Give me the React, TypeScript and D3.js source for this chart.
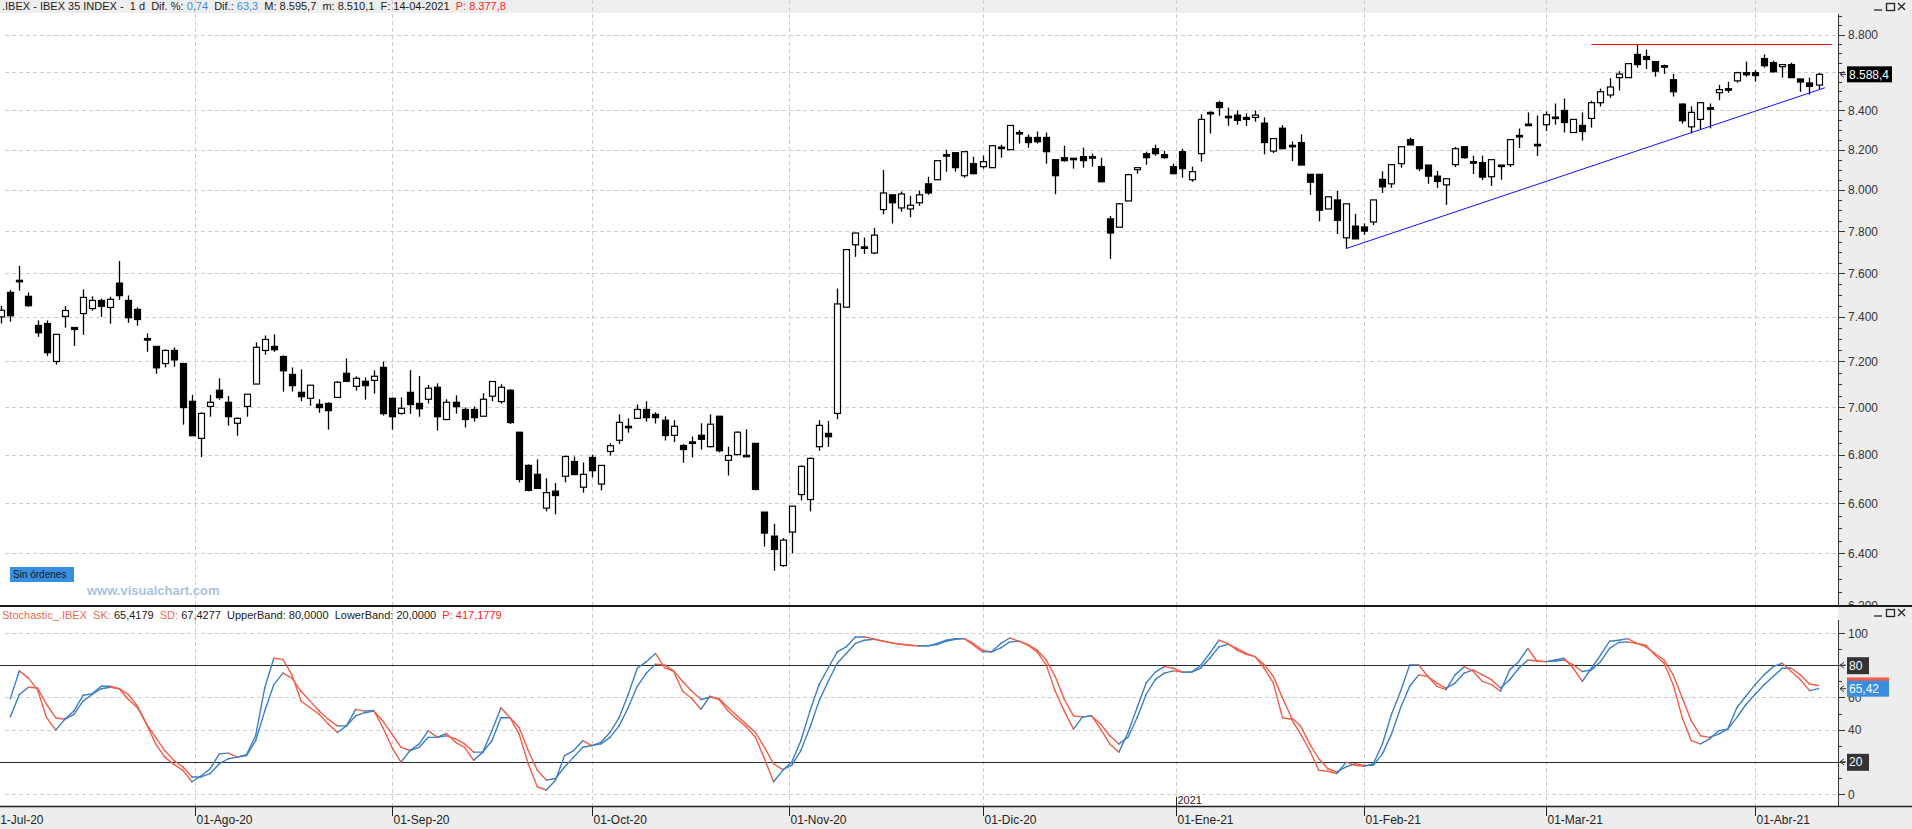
import React, { useEffect, useRef } from 'react';
import * as d3 from 'd3';

const W = 1912;
const H = 829;
const AXIS_X = 1838;
const MAIN_BOTTOM = 605;
const STOCH_TOP = 607;
const STOCH_BOTTOM = 806;

const FIRST_DAY = '2020-07-01';
const LAST_DAY = '2021-04-14';
const HOLIDAYS = ['2020-12-25', '2021-01-01', '2021-04-02', '2021-04-05'];
const MONTH_NAMES = ['Ene', 'Feb', 'Mar', 'Abr', 'May', 'Jun', 'Jul', 'Ago', 'Sep', 'Oct', 'Nov', 'Dic'];
const MONTH_TICKS = ['2020-07-01', '2020-08-01', '2020-09-01', '2020-10-01', '2020-11-01', '2020-12-01', '2021-01-01', '2021-02-01', '2021-03-01', '2021-04-01'];

const OPEN = [7440, 7400, 7512, 7564, 7494, 7361, 7370, 7200, 7402, 7343, 7415, 7438, 7475, 7443, 7555, 7475, 7434, 7302, 7267, 7191, 7249, 7191, 7026, 6868, 7004, 7074, 7022, 6932, 7004, 7101, 7249, 7267, 7222, 7143, 7065, 7039, 7013, 7017, 7043, 7148, 7091, 7113, 7117, 7174, 7039, 6974, 7065, 7017, 7035, 7087, 6948, 7022, 6991, 6991, 6962, 7048, 7025, 7074, 6894, 6755, 6718, 6580, 6649, 6710, 6771, 6665, 6788, 6678, 6813, 6860, 6919, 6953, 6991, 6970, 6945, 6881, 6838, 6853, 6881, 6833, 6962, 6776, 6800, 6797, 6847, 6564, 6468, 6352, 6484, 6635, 6615, 6833, 6889, 6974, 7444, 7735, 7725, 7696, 7904, 7976, 7912, 7907, 7937, 8030, 8050, 8175, 8185, 8070, 8130, 8115, 8110, 8208, 8200, 8287, 8262, 8262, 8262, 8150, 8160, 8155, 8165, 8165, 8115, 7859, 7819, 7946, 8100, 8180, 8205, 8175, 8115, 8190, 8050, 8180, 8390, 8440, 8368, 8376, 8354, 8364, 8335, 8193, 8309, 8222, 8236, 8077, 8077, 7907, 7951, 7768, 7824, 7820, 7844, 8052, 8030, 8130, 8251, 8215, 8123, 8068, 8025, 8125, 8215, 8140, 8135, 8065, 8123, 8125, 8268, 8330, 8223, 8327, 8362, 8400, 8287, 8323, 8359, 8440, 8480, 8571, 8571, 8694, 8683, 8656, 8634, 8560, 8433, 8316, 8354, 8410, 8492, 8513, 8554, 8597, 8597, 8672, 8650, 8629, 8640, 8564, 8543, 8532];
const HIGH = [7470, 7450, 7523, 7635, 7512, 7384, 7384, 7321, 7449, 7352, 7526, 7494, 7483, 7492, 7658, 7498, 7443, 7325, 7267, 7254, 7263, 7191, 7054, 6979, 7054, 7126, 7049, 6957, 7057, 7285, 7316, 7321, 7227, 7174, 7165, 7096, 7035, 7022, 7114, 7213, 7135, 7130, 7161, 7200, 7043, 7043, 7162, 7136, 7097, 7104, 7035, 7052, 7000, 7004, 7061, 7112, 7100, 7078, 6894, 6759, 6780, 6702, 6682, 6796, 6792, 6767, 6800, 6755, 6847, 6970, 6953, 7013, 7026, 6979, 6962, 6945, 6844, 6876, 6932, 6970, 6962, 6833, 6898, 6906, 6847, 6564, 6517, 6460, 6588, 6755, 6788, 6945, 6942, 7530, 7715, 7792, 7769, 7816, 8098, 7976, 7992, 7971, 7997, 8065, 8145, 8200, 8185, 8190, 8165, 8170, 8220, 8225, 8323, 8299, 8277, 8292, 8287, 8150, 8220, 8155, 8210, 8180, 8160, 7873, 7936, 8080, 8110, 8190, 8225, 8195, 8130, 8205, 8115, 8380, 8395, 8450, 8415, 8400, 8385, 8400, 8364, 8256, 8325, 8241, 8277, 8077, 8077, 7966, 7995, 7932, 7883, 7837, 7951, 8092, 8125, 8215, 8261, 8215, 8123, 8093, 8055, 8214, 8215, 8170, 8170, 8150, 8123, 8251, 8307, 8390, 8374, 8395, 8436, 8462, 8354, 8390, 8450, 8514, 8568, 8605, 8645, 8746, 8720, 8656, 8640, 8591, 8436, 8421, 8440, 8436, 8533, 8549, 8602, 8656, 8612, 8694, 8661, 8640, 8650, 8564, 8571, 8595.7];
const LOW = [7380, 7370, 7378, 7520, 7446, 7310, 7225, 7186, 7351, 7269, 7319, 7428, 7400, 7369, 7478, 7373, 7360, 7243, 7146, 7174, 7177, 6926, 6879, 6790, 6960, 7033, 6922, 6879, 6960, 7101, 7230, 7243, 7068, 7068, 7027, 7007, 6977, 6905, 7043, 7109, 7072, 7033, 7059, 6965, 6905, 6969, 6972, 6960, 7017, 6901, 6945, 6973, 6914, 6939, 6962, 7026, 7016, 6929, 6685, 6648, 6660, 6567, 6555, 6685, 6717, 6643, 6705, 6652, 6796, 6844, 6892, 6953, 6939, 6931, 6859, 6852, 6766, 6788, 6821, 6830, 6809, 6713, 6796, 6792, 6652, 6427, 6332, 6348, 6400, 6611, 6567, 6816, 6832, 6949, 7441, 7678, 7691, 7690, 7881, 7837, 7893, 7867, 7922, 7976, 8050, 8090, 8090, 8060, 8080, 8105, 8110, 8160, 8200, 8231, 8210, 8231, 8130, 7979, 8140, 8105, 8110, 8115, 8040, 7668, 7819, 7946, 8080, 8125, 8170, 8155, 8080, 8060, 8040, 8140, 8282, 8373, 8321, 8327, 8321, 8342, 8177, 8183, 8205, 8143, 8123, 7976, 7847, 7907, 7786, 7717, 7763, 7782, 7829, 7985, 8010, 8110, 8224, 8093, 8030, 8010, 7927, 8113, 8155, 8078, 8048, 8020, 8050, 8113, 8208, 8322, 8168, 8294, 8327, 8287, 8287, 8246, 8312, 8421, 8465, 8504, 8571, 8624, 8617, 8576, 8591, 8472, 8332, 8282, 8302, 8308, 8453, 8492, 8545, 8576, 8550, 8624, 8597, 8571, 8571, 8497, 8482, 8510.1];
const CLOSE = [7400, 7430, 7405, 7568, 7451, 7328, 7239, 7321, 7429, 7352, 7489, 7475, 7448, 7480, 7497, 7396, 7388, 7298, 7172, 7249, 7207, 6999, 6879, 6974, 7022, 7042, 6960, 6953, 7057, 7263, 7298, 7252, 7159, 7094, 7046, 7096, 6999, 6986, 7109, 7113, 7126, 7094, 7135, 6973, 6960, 6996, 7012, 6994, 7083, 6960, 7022, 7003, 6948, 6956, 7035, 7112, 7087, 6935, 6697, 6652, 6660, 6643, 6631, 6792, 6717, 6718, 6733, 6755, 6837, 6936, 6915, 6991, 6956, 6956, 6880, 6919, 6821, 6851, 6864, 6928, 6816, 6796, 6894, 6796, 6656, 6480, 6415, 6452, 6588, 6751, 6784, 6923, 6875, 7459, 7712, 7791, 7720, 7781, 7985, 7937, 7980, 7925, 7976, 7985, 8145, 8170, 8110, 8190, 8080, 8140, 8220, 8213, 8323, 8282, 8236, 8240, 8190, 8070, 8145, 8157, 8145, 8160, 8040, 7791, 7932, 8075, 8110, 8160, 8180, 8160, 8080, 8105, 8090, 8354, 8385, 8415, 8370, 8349, 8364, 8376, 8236, 8256, 8205, 8217, 8123, 8038, 7901, 7966, 7852, 7932, 7763, 7800, 7951, 8015, 8125, 8215, 8224, 8105, 8068, 8042, 8055, 8205, 8160, 8135, 8063, 8150, 8118, 8251, 8272, 8322, 8227, 8378, 8366, 8338, 8354, 8292, 8440, 8497, 8522, 8590, 8645, 8640, 8667, 8605, 8629, 8497, 8347, 8390, 8440, 8414, 8508, 8508, 8597, 8586, 8582, 8634, 8602, 8640, 8571, 8548, 8525, 8588.4];

const SK = [null, null, 59.1, 76.5, 72.0, 64.8, 47.4, 39.7, 46.4, 51.5, 61.3, 62.2, 66.9, 66.9, 65.4, 58.7, 53.6, 43.4, 31.1, 22.9, 18.4, 14.7, 7.6, 11.2, 15.7, 24.9, 25.4, 22.9, 24.5, 36.2, 65.8, 84.3, 83.6, 74.0, 57.7, 53.6, 49.5, 43.4, 38.2, 42.3, 52.6, 51.5, 51.9, 41.3, 29.0, 19.8, 27.0, 31.1, 39.3, 35.2, 37.6, 32.1, 29.0, 20.9, 26.0, 39.3, 53.6, 47.4, 37.2, 18.8, 4.5, 2.5, 8.6, 23.9, 27.0, 33.1, 30.1, 32.1, 38.2, 47.4, 61.8, 78.1, 82.2, 87.3, 78.5, 76.1, 63.8, 59.3, 52.6, 60.7, 58.7, 51.5, 46.4, 41.7, 35.2, 21.9, 7.6, 14.7, 19.8, 33.1, 51.5, 67.9, 78.1, 88.3, 91.4, 97.5, 97.5, 96.5, 94.9, 93.9, 93.0, 92.4, 92.0, 92.0, 93.5, 95.5, 96.5, 96.5, 92.4, 88.3, 88.3, 93.5, 96.9, 94.9, 92.4, 88.3, 80.2, 63.8, 51.5, 40.3, 47.9, 48.5, 40.3, 31.1, 26.0, 38.2, 53.6, 68.9, 75.7, 79.1, 78.1, 75.7, 75.7, 79.8, 87.3, 95.5, 93.5, 89.4, 86.7, 85.3, 78.1, 68.9, 47.4, 46.4, 37.2, 27.0, 14.7, 14.1, 12.7, 19.8, 17.8, 17.2, 18.8, 31.1, 49.5, 63.8, 80.2, 80.2, 73.0, 66.9, 64.8, 74.0, 79.1, 76.1, 69.9, 67.9, 63.8, 77.1, 82.2, 90.4, 82.6, 82.2, 83.2, 84.3, 78.1, 69.9, 78.1, 86.3, 94.9, 95.5, 96.5, 93.5, 92.4, 86.3, 81.2, 67.9, 47.4, 33.1, 31.1, 34.2, 39.3, 40.3, 53.6, 60.7, 67.9, 74.0, 79.1, 81.2, 76.1, 71.0, 64.2, 65.42];
const SD = [null, null, 47.9, 61.8, 66.3, 65.8, 55.6, 47.4, 46.4, 49.5, 57.7, 61.8, 65.4, 66.3, 65.4, 61.8, 54.6, 43.4, 35.2, 27.0, 20.9, 16.8, 10.6, 10.6, 12.7, 18.8, 21.9, 22.9, 23.9, 33.1, 51.5, 67.9, 75.1, 72.0, 63.8, 57.7, 51.5, 46.4, 42.3, 42.3, 48.5, 50.5, 51.5, 45.4, 37.2, 29.0, 27.0, 29.0, 35.2, 35.2, 36.2, 34.2, 31.1, 26.0, 26.0, 33.1, 47.4, 47.4, 41.3, 27.0, 14.7, 8.6, 9.6, 16.8, 22.9, 29.0, 30.1, 31.1, 35.2, 42.3, 53.6, 66.9, 75.1, 80.6, 80.2, 76.5, 69.9, 63.8, 58.7, 60.1, 59.3, 53.6, 48.5, 43.4, 38.2, 29.0, 18.8, 15.1, 17.8, 27.0, 41.3, 57.7, 69.9, 81.2, 87.3, 93.5, 95.5, 96.1, 95.1, 93.9, 93.0, 92.4, 92.0, 92.0, 92.8, 94.9, 96.1, 96.5, 93.5, 89.4, 88.3, 90.8, 94.5, 94.9, 92.8, 89.4, 83.2, 73.0, 58.7, 48.5, 47.9, 48.5, 43.4, 36.2, 31.1, 35.2, 47.4, 61.8, 71.0, 75.1, 76.5, 75.7, 75.7, 78.1, 84.3, 91.4, 93.0, 90.4, 87.3, 85.3, 80.2, 73.0, 59.7, 47.4, 42.3, 31.1, 21.9, 15.7, 13.7, 16.8, 18.8, 17.8, 17.8, 24.9, 37.2, 53.6, 66.9, 74.0, 73.0, 68.9, 65.8, 68.9, 75.1, 77.1, 74.0, 71.0, 65.8, 71.0, 78.1, 83.2, 82.6, 82.2, 82.6, 83.2, 80.2, 76.1, 77.1, 82.2, 90.4, 94.1, 94.5, 93.5, 91.4, 87.3, 83.2, 74.0, 59.7, 45.4, 36.2, 35.2, 37.2, 40.3, 47.4, 55.6, 61.8, 67.9, 73.0, 78.1, 78.1, 74.0, 68.3, 67.43];

const PRICE_LABELS = [6200, 6400, 6600, 6800, 7000, 7200, 7400, 7600, 7800, 8000, 8200, 8400, 8600, 8800];
const STOCH_LABELS = [0, 20, 40, 60, 80, 100];
const BANDS = [80, 20];
const SUPPORT = [{ idx: 149, value: 7717 }, { idx: 201.7, value: 8518 }];
const RESISTANCE = { idx: 176, value: 8748 };
const LAST_PRICE = 8588.4;

const HEADER = [
  ['.IBEX - IBEX 35 INDEX -  1 d  Dif. %: ', '#1a1a1a'],
  ['0,74', '#3a8ee0'],
  ['  Dif.: ', '#1a1a1a'],
  ['63,3', '#3a8ee0'],
  ['  M: 8.595,7  m: 8.510,1  F: 14-04-2021  ', '#1a1a1a'],
  ['P: 8.377,8', '#ff1a1a'],
];
const STOCH_HEADER = [
  ['Stochastic_.IBEX  SK: ', '#ec6a55'],
  ['65,4179  ', '#1a1a1a'],
  ['SD: ', '#ec6a55'],
  ['67,4277  UpperBand: 80,0000  LowerBand: 20,0000  ', '#1a1a1a'],
  ['P: 417,1779', '#ff1a1a'],
];

const FONT = '"Liberation Sans", Arial, sans-serif';
const BLUE = '#3d7fc2';
const RED = '#ef5e4a';

const fmtPrice = (v: number) => d3.format(',')(v).replace(/,/g, '.');

function tradingDays(): Date[] {
  const out: Date[] = [];
  const d = new Date(FIRST_DAY + 'T00:00:00Z');
  const end = new Date(LAST_DAY + 'T00:00:00Z');
  while (d <= end) {
    const wd = d.getUTCDay();
    const iso = d.toISOString().slice(0, 10);
    if (wd !== 0 && wd !== 6 && !HOLIDAYS.includes(iso)) out.push(new Date(d));
    d.setUTCDate(d.getUTCDate() + 1);
  }
  return out;
}

// position of a calendar date in bar units (interpolated between trading days)
function datePos(days: Date[], iso: string): number {
  const t = new Date(iso + 'T00:00:00Z').getTime();
  const n = days.findIndex(d => d.getTime() >= t);
  if (n <= 0) return 0;
  if (days[n].getTime() === t) return n;
  const p = n - 1;
  return p + (t - days[p].getTime()) / (days[n].getTime() - days[p].getTime());
}

function addParts(sel: any, parts: string[][]) {
  parts.forEach(([txt, col]) => sel.append('tspan').attr('fill', col).text(txt));
}

const StockChart: React.FC = () => {
  const svgRef = useRef<SVGSVGElement>(null);

  useEffect(() => {
    if (!svgRef.current) return;
    const svg = d3.select(svgRef.current);
    svg.selectAll('*').remove();

    const days = tradingDays();
    const n = OPEN.length;

    const x = d3.scaleLinear().domain([0, n - 1]).range([-7.9, -7.9 + (n - 1) * 9.087]);
    const y = d3.scaleLog().domain([6400, 8800]).range([553.3, 34.7]);
    const ys = d3.scaleLinear().domain([0, 100]).range([794, 633]);

    const defs = svg.append('defs');
    defs.append('clipPath').attr('id', 'clipMain')
      .append('rect').attr('x', 0).attr('y', 0).attr('width', AXIS_X).attr('height', MAIN_BOTTOM);
    defs.append('clipPath').attr('id', 'clipStoch')
      .append('rect').attr('x', 0).attr('y', STOCH_TOP).attr('width', AXIS_X).attr('height', STOCH_BOTTOM - STOCH_TOP);
    defs.append('clipPath').attr('id', 'clipMainAxis')
      .append('rect').attr('x', AXIS_X).attr('y', 0).attr('width', W - AXIS_X).attr('height', MAIN_BOTTOM);

    // backgrounds
    svg.append('rect').attr('width', W).attr('height', H).attr('fill', '#ffffff');
    svg.append('rect').attr('x', 0).attr('y', 0).attr('width', AXIS_X).attr('height', 13).attr('fill', '#eeeeee');
    svg.append('rect').attr('x', AXIS_X).attr('y', 0).attr('width', W - AXIS_X).attr('height', H).attr('fill', '#ededed');
    svg.append('rect').attr('x', 0).attr('y', STOCH_BOTTOM).attr('width', W).attr('height', H - STOCH_BOTTOM).attr('fill', '#ededed');

    const monthPos = MONTH_TICKS.map(m => ({ iso: m, pos: datePos(days, m) }));

    // ---- main pane
    const main = svg.append('g').attr('clip-path', 'url(#clipMain)');

    main.selectAll('.hgrid').data(PRICE_LABELS).enter().append('line')
      .attr('x1', 5).attr('x2', AXIS_X)
      .attr('y1', d => Math.round(y(d)) + 0.5).attr('y2', d => Math.round(y(d)) + 0.5)
      .attr('stroke', '#cfcfcf').attr('stroke-dasharray', '4,3');

    main.selectAll('.vgrid').data(monthPos).enter().append('line')
      .attr('x1', d => Math.round(x(d.pos)) + 0.5).attr('x2', d => Math.round(x(d.pos)) + 0.5)
      .attr('y1', 0).attr('y2', MAIN_BOTTOM)
      .attr('stroke', '#d2c9d2').attr('stroke-dasharray', '4,3');

    const header = main.append('text').attr('x', 2).attr('y', 10)
      .attr('font-family', FONT).attr('font-size', 11).style('white-space', 'pre');
    addParts(header, HEADER);

    // candles
    const candles = main.append('g');
    d3.range(n).forEach(i => {
      const cx = Math.round(x(i)) + 0.5;
      const o = OPEN[i], c = CLOSE[i];
      candles.append('line')
        .attr('x1', cx).attr('x2', cx)
        .attr('y1', y(HIGH[i])).attr('y2', y(LOW[i]))
        .attr('stroke', '#000').attr('stroke-width', 1.3);
      const top = y(Math.max(o, c));
      const bot = y(Math.min(o, c));
      const h = Math.max(bot - top, 1.5);
      candles.append('rect')
        .attr('x', cx - 3).attr('y', top).attr('width', 6).attr('height', h)
        .attr('fill', c >= o && bot - top > 2 ? '#ffffff' : '#000000')
        .attr('stroke', '#000').attr('stroke-width', 1.2);
    });

    // trend lines
    main.append('line')
      .attr('x1', x(SUPPORT[0].idx)).attr('y1', y(SUPPORT[0].value))
      .attr('x2', x(SUPPORT[1].idx)).attr('y2', y(SUPPORT[1].value))
      .attr('stroke', '#1010ff').attr('stroke-width', 1);
    main.append('line')
      .attr('x1', x(RESISTANCE.idx)).attr('x2', AXIS_X - 6)
      .attr('y1', Math.round(y(RESISTANCE.value)) + 0.5).attr('y2', Math.round(y(RESISTANCE.value)) + 0.5)
      .attr('stroke', '#ff0000').attr('stroke-width', 1);

    // watermark + button
    main.append('rect').attr('x', 10).attr('y', 567).attr('width', 64).attr('height', 15).attr('fill', '#3a8ee0');
    main.append('text').attr('x', 13).attr('y', 578).attr('font-family', FONT).attr('font-size', 10)
      .attr('fill', '#0c1a2a').text('Sin órdenes');
    main.append('text').attr('x', 87).attr('y', 595).attr('font-family', FONT).attr('font-size', 13)
      .attr('font-weight', 'bold').attr('fill', '#a9c3e2').text('www.visualchart.com');

    // ---- main axis
    const yl = y(LAST_PRICE);
    const mAxis = svg.append('g').attr('clip-path', 'url(#clipMainAxis)');
    mAxis.append('line').attr('x1', AXIS_X + 0.5).attr('x2', AXIS_X + 0.5).attr('y1', 14).attr('y2', MAIN_BOTTOM)
      .attr('stroke', '#333');
    d3.range(6200, 8901, 50).forEach(v => {
      const major = v % 200 === 0;
      mAxis.append('line')
        .attr('x1', AXIS_X).attr('x2', AXIS_X + (major ? 7 : 4))
        .attr('y1', Math.round(y(v)) + 0.5).attr('y2', Math.round(y(v)) + 0.5)
        .attr('stroke', '#333');
    });
    // labels hidden behind the last-price box are not drawn
    mAxis.selectAll('.plab').data(PRICE_LABELS.filter(v => Math.abs(y(v) - yl) > 10)).enter().append('text')
      .attr('x', AXIS_X + 10).attr('y', d => y(d) + 4.5)
      .attr('font-family', FONT).attr('font-size', 12).attr('fill', '#333')
      .text(d => fmtPrice(d));

    mAxis.append('path').attr('d', `M${AXIS_X + 2},${yl} l4,-3 M${AXIS_X + 2},${yl} l4,3 M${AXIS_X + 2},${yl} h6`)
      .attr('stroke', '#333').attr('fill', 'none');
    mAxis.append('rect').attr('x', AXIS_X + 9).attr('y', yl - 8).attr('width', 45).attr('height', 16).attr('fill', '#000');
    mAxis.append('text').attr('x', AXIS_X + 11).attr('y', yl + 4.5).attr('font-family', FONT).attr('font-size', 12)
      .attr('fill', '#fff').text('8.588,4');

    // window buttons
    const winBtns = (top: number) => {
      const g = svg.append('g').attr('stroke', '#222').attr('fill', 'none').attr('stroke-width', 1.3);
      g.append('line').attr('x1', 1874).attr('x2', 1882).attr('y1', top + 8).attr('y2', top + 8);
      g.append('rect').attr('x', 1886.5).attr('y', top + 1.5).attr('width', 8).attr('height', 7);
      g.append('path').attr('d', `M1898,${top + 1} l7,7 M1905,${top + 1} l-7,7`);
    };
    winBtns(2);
    winBtns(608);

    // divider
    svg.append('line').attr('x1', 0).attr('x2', W).attr('y1', 606).attr('y2', 606)
      .attr('stroke', '#1a1a1a').attr('stroke-width', 2);

    // ---- stochastic pane
    const st = svg.append('g').attr('clip-path', 'url(#clipStoch)');
    st.selectAll('.sgrid').data([100, 60, 40, 0]).enter().append('line')
      .attr('x1', 5).attr('x2', AXIS_X)
      .attr('y1', d => Math.round(ys(d)) + 0.5).attr('y2', d => Math.round(ys(d)) + 0.5)
      .attr('stroke', '#cfcfcf').attr('stroke-dasharray', '4,3');
    st.selectAll('.svgrid').data(monthPos).enter().append('line')
      .attr('x1', d => Math.round(x(d.pos)) + 0.5).attr('x2', d => Math.round(x(d.pos)) + 0.5)
      .attr('y1', STOCH_TOP).attr('y2', STOCH_BOTTOM)
      .attr('stroke', '#d2c9d2').attr('stroke-dasharray', '4,3');
    st.selectAll('.band').data(BANDS).enter().append('line')
      .attr('x1', 0).attr('x2', AXIS_X)
      .attr('y1', d => Math.round(ys(d)) + 0.5).attr('y2', d => Math.round(ys(d)) + 0.5)
      .attr('stroke', '#2b2b2b').attr('stroke-width', 1);

    const sHeader = st.append('text').attr('x', 2).attr('y', 619)
      .attr('font-family', FONT).attr('font-size', 11).style('white-space', 'pre');
    addParts(sHeader, STOCH_HEADER);

    [SD, SK].forEach(series => {
      for (let i = 1; i < series.length; i++) {
        const a = series[i - 1], b = series[i];
        if (a == null || b == null) continue;
        st.append('line')
          .attr('x1', x(i - 1)).attr('y1', ys(a))
          .attr('x2', x(i)).attr('y2', ys(b))
          .attr('stroke', b >= a ? BLUE : RED).attr('stroke-width', 1.4)
          .attr('stroke-linecap', 'round');
      }
    });

    // stochastic axis
    svg.append('line').attr('x1', AXIS_X + 0.5).attr('x2', AXIS_X + 0.5).attr('y1', 620).attr('y2', STOCH_BOTTOM)
      .attr('stroke', '#333');
    d3.range(0, 101, 10).forEach(v => {
      const major = v % 20 === 0;
      svg.append('line')
        .attr('x1', AXIS_X).attr('x2', AXIS_X + (major ? 7 : 4))
        .attr('y1', Math.round(ys(v)) + 0.5).attr('y2', Math.round(ys(v)) + 0.5)
        .attr('stroke', '#333');
    });
    svg.selectAll('.slab').data(STOCH_LABELS.filter(v => !BANDS.includes(v))).enter().append('text')
      .attr('x', AXIS_X + 10).attr('y', d => ys(d) + 4.5)
      .attr('font-family', FONT).attr('font-size', 12).attr('fill', '#333')
      .text(d => String(d));

    const arrow = (yy: number) => svg.append('path')
      .attr('d', `M${AXIS_X + 2},${yy} l4,-3 M${AXIS_X + 2},${yy} l4,3 M${AXIS_X + 2},${yy} h6`)
      .attr('stroke', '#333').attr('fill', 'none');

    BANDS.forEach(b => {
      arrow(ys(b));
      svg.append('rect').attr('x', AXIS_X + 9).attr('y', ys(b) - 8).attr('width', 22).attr('height', 17).attr('fill', '#333');
      svg.append('text').attr('x', AXIS_X + 11).attr('y', ys(b) + 4.5).attr('font-family', FONT).attr('font-size', 12)
        .attr('fill', '#fff').text(String(b));
    });

    const lastK = SK[n - 1] as number;
    const lastD = SD[n - 1] as number;
    svg.append('rect').attr('x', AXIS_X + 9).attr('y', ys(lastD) - 8).attr('width', 42).attr('height', 16).attr('fill', RED);
    arrow(ys(lastK));
    svg.append('rect').attr('x', AXIS_X + 9).attr('y', ys(lastK) - 8).attr('width', 42).attr('height', 16).attr('fill', '#3a8ee0');
    svg.append('text').attr('x', AXIS_X + 11).attr('y', ys(lastK) + 4.5).attr('font-family', FONT).attr('font-size', 12)
      .attr('fill', '#fff').text(d3.format('.2f')(lastK).replace('.', ','));

    // ---- time axis
    svg.append('line').attr('x1', 0).attr('x2', W).attr('y1', STOCH_BOTTOM + 0.5).attr('y2', STOCH_BOTTOM + 0.5)
      .attr('stroke', '#222').attr('stroke-width', 1.5);
    monthPos.forEach(({ iso, pos }) => {
      const xx = Math.round(x(pos)) + 0.5;
      const d = new Date(iso + 'T00:00:00Z');
      const lab = `01-${MONTH_NAMES[d.getUTCMonth()]}-${String(d.getUTCFullYear()).slice(2)}`;
      svg.append('line').attr('x1', xx).attr('x2', xx).attr('y1', STOCH_BOTTOM).attr('y2', STOCH_BOTTOM + 10)
        .attr('stroke', '#222');
      svg.append('text').attr('x', xx + 1).attr('y', 824).attr('font-family', FONT).attr('font-size', 12)
        .attr('fill', '#222').text(lab);
      if (d.getUTCMonth() === 0) {
        svg.append('line').attr('x1', xx).attr('x2', xx).attr('y1', STOCH_BOTTOM - 9).attr('y2', STOCH_BOTTOM)
          .attr('stroke', '#222');
        svg.append('text').attr('x', xx + 1).attr('y', STOCH_BOTTOM - 2).attr('font-family', FONT).attr('font-size', 11)
          .attr('fill', '#222').text(String(d.getUTCFullYear()));
      }
    });
  }, []);

  return <svg ref={svgRef} width={W} height={H} style={{ display: 'block' }} />;
};

export default function App() {
  return (
    <div style={{ position: 'fixed', left: 0, top: 0, width: W, height: H, overflow: 'hidden', background: '#fff' }}>
      <StockChart />
    </div>
  );
}
